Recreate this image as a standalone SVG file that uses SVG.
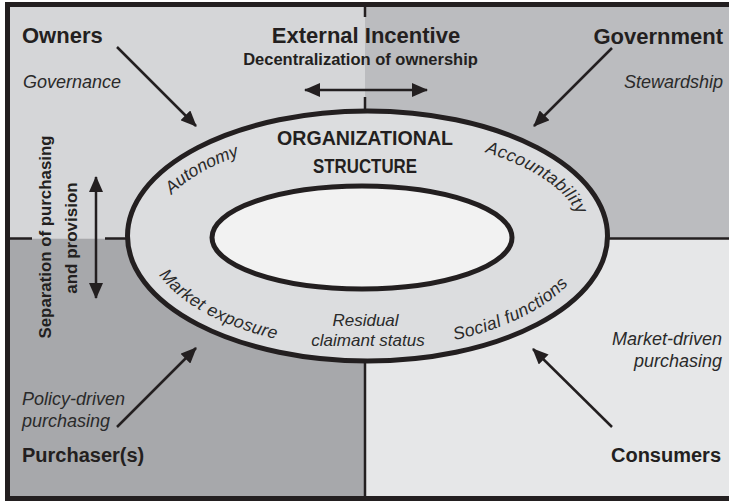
<svg xmlns="http://www.w3.org/2000/svg" width="729" height="502" viewBox="0 0 729 502">
<style>
.b{font-family:"Liberation Sans",Arial,sans-serif;font-weight:bold;fill:#231f20}
.i{font-family:"Liberation Sans",Arial,sans-serif;font-style:italic;fill:#2a2a2a}
.ln{stroke:#231f20;stroke-width:2.5;fill:none}
.ar{stroke:#231f20;stroke-width:2.5;fill:none;marker-end:url(#ah)}
.dar{stroke:#231f20;stroke-width:2.5;fill:none;marker-start:url(#ah);marker-end:url(#ah)}
</style>
<defs>
<marker id="ah" viewBox="0 0 16 14" refX="15" refY="7" markerWidth="16" markerHeight="14" markerUnits="userSpaceOnUse" orient="auto-start-reverse">
<path d="M0,0 L16,7 L0,14 z" fill="#231f20"/>
</marker>
<path id="topArc" d="M152.5,236 A215,100 0 0 1 582.5,236"/>
<path id="botArc" d="M145.5,236 A222,113 0 0 0 589.5,236"/>
</defs>

<g id="background">
<rect x="0" y="0" width="729" height="502" fill="#ffffff"/>
<rect x="7.5" y="4.5" width="357.5" height="234" fill="#d5d6d8"/>
<rect x="365" y="4.5" width="364" height="234" fill="#bbbcbf"/>
<rect x="7.5" y="238.5" width="357.5" height="260" fill="#a7a8ab"/>
<rect x="365" y="238.5" width="364" height="260" fill="#e6e7e8"/>
<rect x="7.5" y="4.5" width="730" height="494" fill="none" stroke="#231f20" stroke-width="5"/>
</g>

<g id="dividers">
<line class="ln" x1="365" y1="7" x2="365" y2="17"/>
<line class="ln" x1="365" y1="97" x2="365" y2="112"/>
<line class="ln" x1="8" y1="238.5" x2="32" y2="238.5"/>
<line class="ln" x1="105" y1="238.5" x2="130" y2="238.5"/>
<line class="ln" x1="605" y1="238.5" x2="729" y2="238.5"/>
<line class="ln" x1="365" y1="358" x2="365" y2="497"/>
</g>

<g id="organizational-structure">
<ellipse cx="367.5" cy="236" rx="240" ry="125" fill="#dcdddf" stroke="#231f20" stroke-width="5"/>
<ellipse cx="362" cy="237.5" rx="150" ry="51.5" fill="#f2f2f2" stroke="#231f20" stroke-width="5"/>
<text class="b" x="365" y="145" font-size="20" text-anchor="middle" textLength="176" lengthAdjust="spacingAndGlyphs">ORGANIZATIONAL</text>
<text class="b" x="365" y="173" font-size="20" text-anchor="middle" textLength="104" lengthAdjust="spacingAndGlyphs">STRUCTURE</text>
<text class="i" font-size="17.5"><textPath href="#topArc" startOffset="86" text-anchor="middle">Autonomy</textPath></text>
<text class="i" font-size="17.5" letter-spacing="0.5"><textPath href="#topArc" startOffset="432" text-anchor="middle">Accountability</textPath></text>
<text class="i" font-size="17.5" letter-spacing="0.4"><textPath href="#botArc" startOffset="110" text-anchor="middle">Market exposure</textPath></text>
<text class="i" font-size="17.5" letter-spacing="0.4"><textPath href="#botArc" startOffset="422" text-anchor="middle">Social functions</textPath></text>
<text class="i" x="365.5" y="326" font-size="17" text-anchor="middle">Residual</text>
<text class="i" x="368" y="346" font-size="17" text-anchor="middle">claimant status</text>
</g>

<g id="owners">
<text class="b" x="22" y="43" font-size="22">Owners</text>
<text class="i" x="23" y="88" font-size="18">Governance</text>
</g>

<g id="external-incentive">
<text class="b" x="366" y="43" font-size="22" text-anchor="middle">External Incentive</text>
<text class="b" x="360.5" y="65" font-size="16.5" text-anchor="middle">Decentralization of ownership</text>
</g>

<g id="government">
<text class="b" x="723" y="44" font-size="22" text-anchor="end">Government</text>
<text class="i" x="723" y="88" font-size="18" text-anchor="end">Stewardship</text>
</g>

<g id="separation">
<text class="b" transform="translate(51,237) rotate(-90)" font-size="17" text-anchor="middle" textLength="203" lengthAdjust="spacingAndGlyphs">Separation of purchasing</text>
<text class="b" transform="translate(77,238) rotate(-90)" font-size="17" text-anchor="middle">and provision</text>
</g>

<g id="purchasers">
<text class="i" x="22" y="405" font-size="18">Policy-driven</text>
<text class="i" x="22" y="427" font-size="18">purchasing</text>
<text class="b" x="22" y="462" font-size="20">Purchaser(s)</text>
</g>

<g id="consumers">
<text class="i" x="722" y="345" font-size="18" text-anchor="end">Market-driven</text>
<text class="i" x="722" y="367" font-size="18" text-anchor="end">purchasing</text>
<text class="b" x="721" y="462" font-size="20" text-anchor="end">Consumers</text>
</g>

<g id="connectors">
<line class="ar" x1="117" y1="47" x2="196" y2="126"/>
<line class="ar" x1="612" y1="48" x2="534" y2="126"/>
<line class="ar" x1="117" y1="427" x2="196" y2="348"/>
<line class="ar" x1="612" y1="427" x2="533" y2="349"/>
<line class="dar" x1="305" y1="90" x2="427" y2="90"/>
<line class="dar" x1="96" y1="177" x2="96" y2="298"/>
</g>
</svg>
